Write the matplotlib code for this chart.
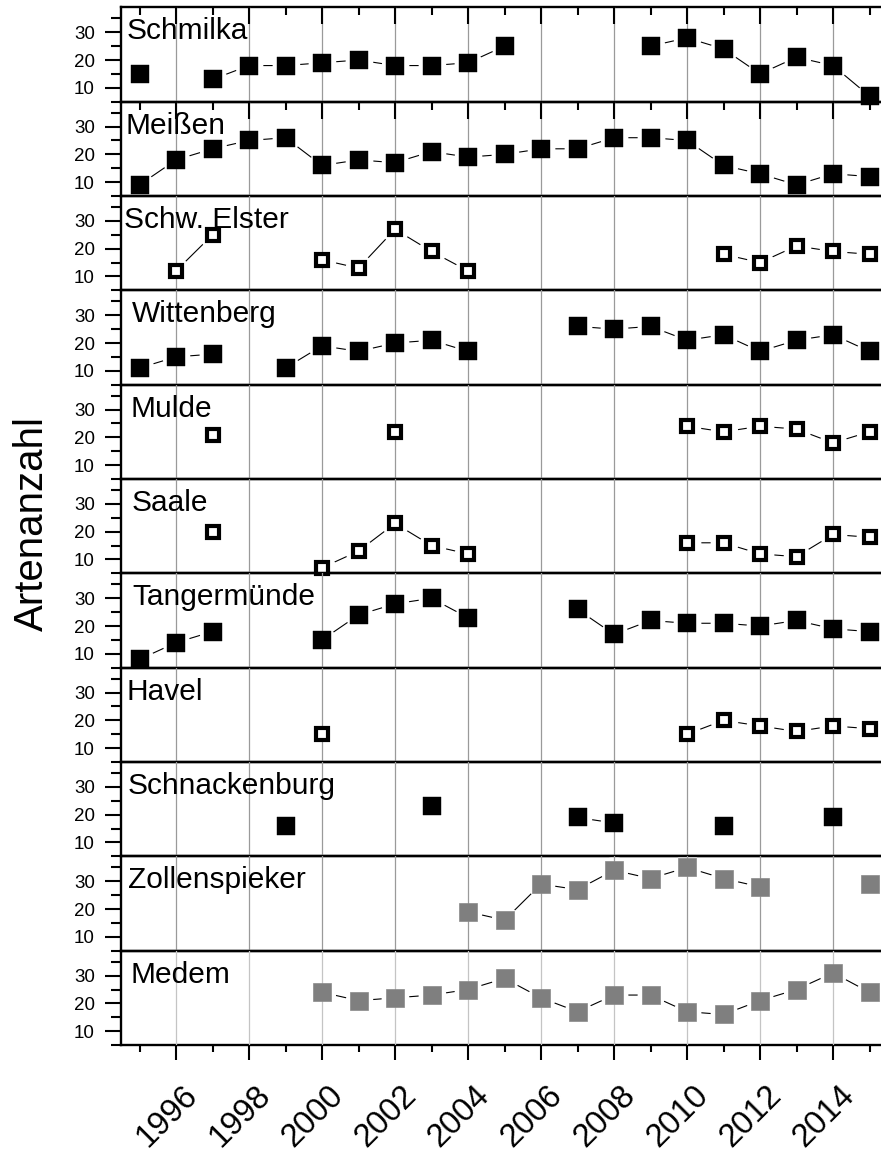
import numpy as np
import matplotlib
matplotlib.use("Agg")
import matplotlib.pyplot as plt
from matplotlib.ticker import MultipleLocator
from matplotlib.transforms import blended_transform_factory, ScaledTranslation

plt.rcParams['font.family'] = ['Liberation Sans', 'DejaVu Sans']

nan = np.nan
years = list(range(1995, 2016))
tick_years = [1996, 1998, 2000, 2002, 2004, 2006, 2008, 2010, 2012, 2014]

stations = ["Schmilka", "Meißen", "Schw. Elster", "Wittenberg", "Mulde", "Saale",
            "Tangermünde", "Havel", "Schnackenburg", "Zollenspieker", "Medem"]

schmilka = [15, nan, 13, 18, 18, 19, 20, 18, 18, 19, 25, nan, nan, nan, 25, 28, 24, 15, 21, 18, 7]
meissen = [9, 18, 22, 25, 26, 16, 18, 17, 21, 19, 20, 22, 22, 26, 26, 25, 16, 13, 9, 13, 12]
schw_elster = [nan, 12, 25, nan, nan, 16, 13, 27, 19, 12, nan, nan, nan, nan, nan, nan, 18, 15, 21, 19, 18]
wittenberg = [11, 15, 16, nan, 11, 19, 17, 20, 21, 17, nan, nan, 26, 25, 26, 21, 23, 17, 21, 23, 17]
mulde = [nan, nan, 21, nan, nan, nan, nan, 22, nan, nan, nan, nan, nan, nan, nan, 24, 22, 24, 23, 18, 22]
saale = [nan, nan, 20, nan, nan, 7, 13, 23, 15, 12, nan, nan, nan, nan, nan, 16, 16, 12, 11, 19, 18]
tangermuende = [8, 14, 18, nan, nan, 15, 24, 28, 30, 23, nan, nan, 26, 17, 22, 21, 21, 20, 22, 19, 18]
havel = [nan, nan, nan, nan, nan, 15, nan, nan, nan, nan, nan, nan, nan, nan, nan, 15, 20, 18, 16, 18, 17]
schnackenburg = [nan, nan, nan, nan, 16, nan, nan, nan, 23, nan, nan, nan, 19, 17, nan, nan, 16, nan, nan, 19, nan]
zollenspieker = [nan, nan, nan, nan, nan, nan, nan, nan, nan, 19, 16, 29, 27, 34, 31, 35, 31, 28, nan, nan, 29]
medem = [nan, nan, nan, nan, nan, 24, 21, 22, 23, 25, 29, 22, 17, 23, 23, 17, 16, 21, 25, 31, 24]

series = [schmilka, meissen, schw_elster, wittenberg, mulde, saale,
          tangermuende, havel, schnackenburg, zollenspieker, medem]
styles = ["filled", "filled", "open", "filled", "open", "open",
          "filled", "open", "filled", "gray", "gray"]

# layout (pixels)
W, H = 881, 1153
DPI = 100
left_px = 121.25
year_px = 36.5
xlim = (1994.5, 2015.5)
top_px = 7.3
bottom_px = 1045.0
n = len(stations)
h_px = (bottom_px - top_px) / n
w_px = (xlim[1] - xlim[0]) * year_px
label_dx_px = [5.4, 4.5, 3.0, 10.5, 9.2, 10.0, 10.8, 5.4, 6.4, 7.2, 9.2]

fig = plt.figure(figsize=(W / DPI, H / DPI), dpi=DPI)
fig.patch.set_facecolor('white')

axes = []
for i, (name, vals, st) in enumerate(zip(stations, series, styles)):
    y0 = top_px + i * h_px
    ax = fig.add_axes([left_px / W, 1 - (y0 + h_px) / H, w_px / W, h_px / H])
    ax.set_facecolor('none')
    axes.append(ax)
    y = np.array(vals, dtype=float)
    x = np.array(years, dtype=float)

    ax.plot(x, y, '-', color='black', lw=0.8, zorder=1.0)
    ax.plot(x, y, 'o', ms=20, color='white', mec='none', zorder=1.5)
    if st == "filled":
        ax.plot(x, y, 's', ms=12.6, mfc='black', mec='black', mew=0.3, zorder=3, clip_on=False)
    elif st == "gray":
        ax.plot(x, y, 's', ms=12.6, mfc='#7f7f7f', mec='#8a8a8a', mew=0.5, zorder=3, clip_on=False)
    else:
        ax.plot(x, y, 's', ms=9.0, mfc='white', mec='black', mew=3.0, zorder=3, clip_on=False)

    ax.set_xlim(*xlim)
    ax.set_ylim(5, 39)
    ax.set_xticks(tick_years)
    ax.xaxis.set_minor_locator(MultipleLocator(1))
    ax.yaxis.set_major_locator(MultipleLocator(10))
    ax.yaxis.set_minor_locator(MultipleLocator(5))
    ax.set_axisbelow(False)
    gcol = '#c4c4c4' if i == n - 1 else '#9a9a9a'
    ax.grid(True, axis='x', which='major', color=gcol, lw=0.9)

    for s in ['top', 'bottom']:
        ax.spines[s].set_linewidth(1.7)
    ax.spines['left'].set_linewidth(1.7)
    ax.spines['right'].set_visible(False)

    ax.tick_params(axis='y', which='major', direction='out', length=11.5, width=1.5,
                   labelsize=13.5, pad=7.5, left=True, right=False)
    ax.tick_params(axis='y', which='minor', direction='out', length=7, width=1.5,
                   left=True, right=False)

    if i < 2:
        ax.tick_params(axis='x', which='major', top=True, bottom=False, direction='in',
                       length=12, width=1.5, labelbottom=False)
        ax.tick_params(axis='x', which='minor', top=True, bottom=False, direction='in',
                       length=5.5, width=1.5)
    elif i == n - 1:
        ax.tick_params(axis='x', which='major', top=False, bottom=True, direction='out',
                       length=11, width=1.5, labelbottom=False)
        ax.tick_params(axis='x', which='minor', top=False, bottom=True, direction='out',
                       length=5, width=1.5)
    else:
        ax.tick_params(axis='x', which='both', top=False, bottom=False, labelbottom=False)

    ax.annotate(name, xy=(0, 1), xycoords='axes fraction',
                xytext=(label_dx_px[i] * 72 / DPI, -32 * 72 / DPI), textcoords='offset points',
                fontsize=21.5, ha='left', va='baseline', zorder=6)

# bottom tick labels
axb = axes[-1]
trans = blended_transform_factory(axb.transData, axb.transAxes) + \
    ScaledTranslation(23 / DPI, -52 / DPI, fig.dpi_scale_trans)
for yr in tick_years:
    axb.text(yr, 0, str(yr), transform=trans, rotation=45, rotation_mode='anchor',
             ha='right', va='baseline', fontsize=23.5, clip_on=False)

fig.text(43 / W, 1 - 523 / H, "Artenanzahl", rotation=90, rotation_mode='anchor',
         ha='center', va='baseline', fontsize=29)

fig.savefig('out.png', dpi=DPI)
